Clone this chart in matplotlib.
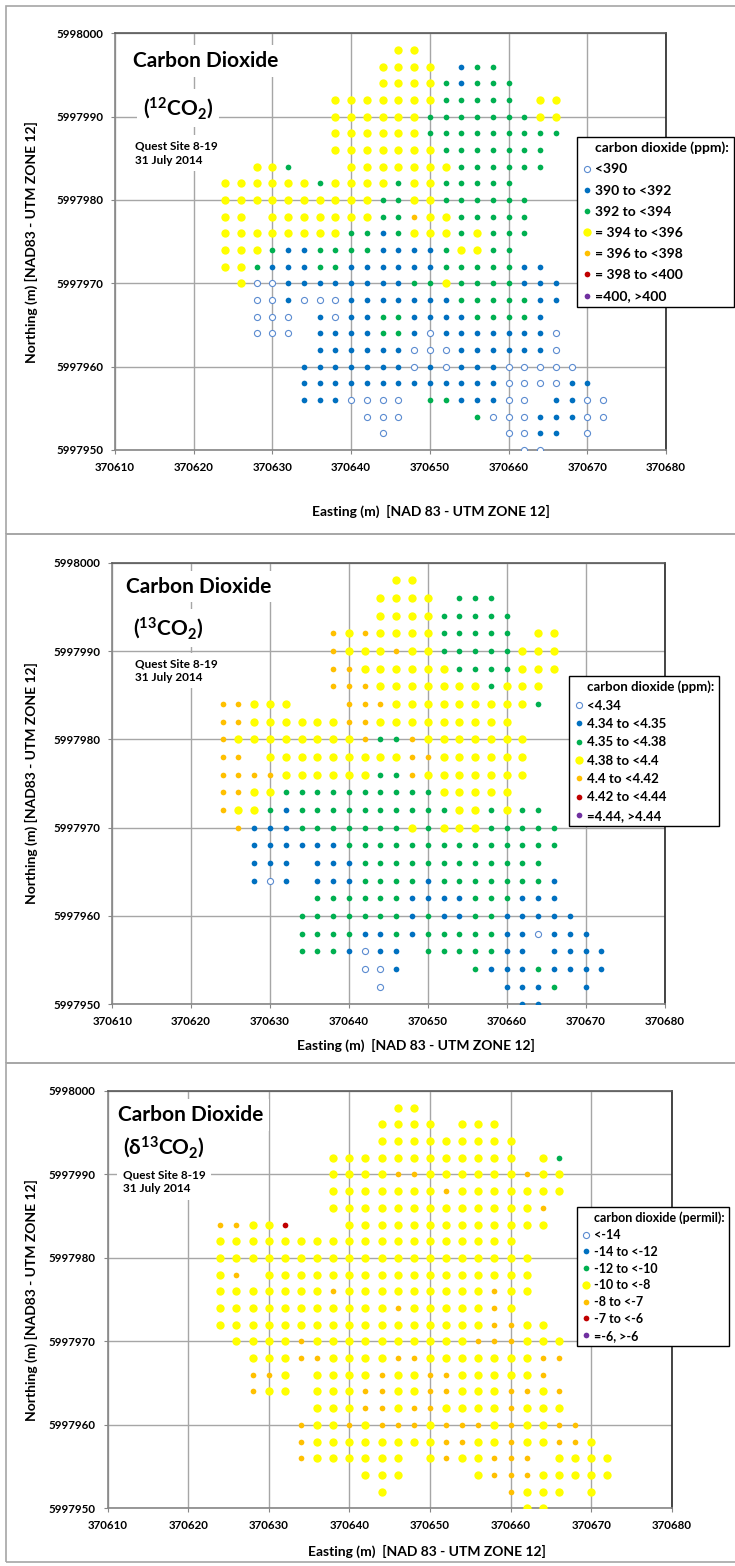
import matplotlib
matplotlib.use('Agg')
import matplotlib.pyplot as plt
from matplotlib.lines import Line2D
from matplotlib.patches import Rectangle

plt.rcParams['font.family'] = ['Lato', 'DejaVu Sans']
plt.rcParams['font.weight'] = 'bold'
plt.rcParams['mathtext.fontset'] = 'custom'
plt.rcParams['mathtext.rm'] = 'Lato:bold'
plt.rcParams['mathtext.it'] = 'Lato:bold'
plt.rcParams['mathtext.bf'] = 'Lato:bold'

W, H = 735, 1566

# sampling grid (m, NAD83 / UTM zone 12)
EASTINGS = [370624, 370626, 370628, 370630, 370632, 370634, 370636, 370638, 370640,
            370642, 370644, 370646, 370648, 370650, 370652, 370654, 370656, 370658,
            370660, 370662, 370664, 370666, 370668, 370670, 370672]
NORTHINGS = [5997998, 5997996, 5997994, 5997992, 5997990, 5997988, 5997986, 5997984,
             5997982, 5997980, 5997978, 5997976, 5997974, 5997972, 5997970, 5997968,
             5997966, 5997964, 5997962, 5997960, 5997958, 5997956, 5997954, 5997952,
             5997950]

# class index per grid point, one string per northing row ('.' = not sampled)
CO2_12_ROWS = [
    "...........33............",
    "..........3333.122.......",
    "..........333321222......",
    ".......333333322222.33...",
    ".......333333222222233...",
    ".......333333222222222...",
    ".......33333332222222....",
    "..332...3333333222222....",
    "3333332333323322222......",
    "33333333332233222222.....",
    "33.33333332243322222.....",
    "33333333221233323222.....",
    "3332112222111123322......",
    "332111221111112222211....",
    ".300111111112232222111...",
    "..00100011111112222211...",
    "..000.101122111122221....",
    "..000.1111221011111110...",
    "......1111110001111110...",
    ".....111111101011100000..",
    ".....1111111111111000011.",
    ".....1110000.2211100.1100",
    ".........000....200011100",
    "..........0.......0011.0.",
    "...................00....",
]

CO2_13_ROWS = [
    "...........33............",
    "..........3333.222.......",
    "..........333322222......",
    ".......434333322222.33...",
    ".......433343322222333...",
    ".......443333332222333...",
    ".......44433333332333....",
    "44333...4443333333332....",
    "4433333344333333333......",
    "43333333342243333333.....",
    "44.33333333344333333.....",
    "44443333332243333333.....",
    "4433222222222233333......",
    "433212222222222332322....",
    ".411122222223233322222...",
    "..11111122222222222222...",
    "..111.111222222222222....",
    "..101.1112222122222221...",
    "......2222221111222111...",
    ".....222222212112211111..",
    ".....2222112122222110111.",
    ".....2221011.2222211.1111",
    ".........001....211121111",
    "..........0.......1112.1.",
    "...................11....",
]

DELTA13_ROWS = [
    "...........33............",
    "..........3333.333.......",
    "..........333333333......",
    ".......333333333333.32...",
    ".......333344333333433...",
    ".......333333343333333...",
    ".......33333333333334....",
    "44335...3333333333333....",
    "3333333333333333333......",
    "33333333333333333333.....",
    "34.33333333333333333.....",
    "33333334333333333433.....",
    "3333333333343333343......",
    "333333333333333334433....",
    ".333343333333333444333...",
    "..33344333344333333344...",
    "..443.333343344333334....",
    "..433.3334433443334434...",
    "......3334434433334333...",
    ".....433434443444343344..",
    ".....4333333334433433443.",
    ".....4333333.3433444.3333",
    ".........333....344433333",
    "..........3.......4333.3.",
    "...................33....",
]

CO2_12_LABELS = ["<390", "390 to <392", "392 to <394", "= 394 to <396",
                 "= 396 to <398", "= 398 to <400", "=400, >400"]
CO2_13_LABELS = ["<4.34", "4.34 to <4.35", "4.35 to <4.38", "4.38 to <4.4",
                 "4.4 to <4.42", "4.42 to <4.44", "=4.44, >4.44"]
DELTA13_LABELS = ["<-14", "-14 to <-12", "-12 to <-10", "-10 to <-8",
                  "-8 to <-7", "-7 to <-6", "=-6, >-6"]

X_TICKS = [370610, 370620, 370630, 370640, 370650, 370660, 370670, 370680]
Y_TICKS = [5997950, 5997960, 5997970, 5997980, 5997990, 5998000]

# marker style for each class
CLASS_STYLE = [
    dict(mfc='white', mec='#5b8bd0', ms=4.4, mew=0.8),
    dict(mfc='#0070C0', mec='#0070C0', ms=4.1, mew=0),
    dict(mfc='#00B050', mec='#00B050', ms=4.1, mew=0),
    dict(mfc='#FFFF00', mec='#FFFF00', ms=6.0, mew=0),
    dict(mfc='#FFC000', mec='#FFC000', ms=4.1, mew=0),
    dict(mfc='#C00000', mec='#C00000', ms=4.1, mew=0),
    dict(mfc='#7030A0', mec='#7030A0', ms=4.1, mew=0),
]

fig = plt.figure(figsize=(W / 100, H / 100), dpi=100)


def fx(px):
    return px / W


def fy(py):
    return 1 - py / H


panels = [
    dict(rows=CO2_12_ROWS, labels=CO2_12_LABELS, box=(115, 33.3, 666, 450),
         frame=(6, 6, 534), leg=(576.7, 136.7, 10, 0.66),
         unit='carbon dioxide (ppm):', sub=r'($^{12}$CO$_2$)',
         title_xy=(133, 61), sub_xy=(143, 108), quest_xy=(135, 145.7),
         xlab_xy=(431, 511.7)),
    dict(rows=CO2_13_ROWS, labels=CO2_13_LABELS, box=(112.2, 562.7, 664.5, 1004.3),
         frame=(6, 534, 1063), leg=(569, 676, 9.5, 0.48),
         unit='carbon dioxide (ppm):', sub=r'($^{13}$CO$_2$)',
         title_xy=(126, 586.7), sub_xy=(133, 628), quest_xy=(135, 663),
         xlab_xy=(416, 1045)),
    dict(rows=DELTA13_ROWS, labels=DELTA13_LABELS, box=(107.5, 1091, 671.8, 1508.3),
         frame=(6, 1063, 1562), leg=(577.3, 1207.3, 9, 0.38),
         unit='carbon dioxide (permil):', sub=r'(δ$^{13}$CO$_2$)',
         title_xy=(118, 1115), sub_xy=(123, 1146.7), quest_xy=(123, 1174.3),
         xlab_xy=(427, 1551.7)),
]

for p in panels:
    # panel border
    fx0, ftop, fbot = p['frame']
    fig.add_artist(Rectangle((fx(fx0), fy(fbot)), fx(W + 10) - fx(fx0), (fbot - ftop) / H,
                             transform=fig.transFigure, fill=False,
                             edgecolor='#a6a6a6', lw=1.2))

    x0, y0, x1, y1 = p['box']
    ax = fig.add_axes([fx(x0), fy(y1), fx(x1) - fx(x0), (y1 - y0) / H])
    ax.set_xlim(X_TICKS[0], X_TICKS[-1])
    ax.set_ylim(Y_TICKS[0], Y_TICKS[-1])
    ax.set_xticks(X_TICKS)
    ax.set_xticklabels([str(v) for v in X_TICKS])
    ax.set_yticks(Y_TICKS)
    ax.set_yticklabels([str(v) for v in Y_TICKS])
    ax.tick_params(length=3, width=0.8, color='#868686', labelsize=8.3, pad=5.5)
    ax.grid(True, color='#a6a6a6', lw=1)
    ax.set_axisbelow(True)
    for s in ax.spines.values():
        s.set_color('#868686')
        s.set_linewidth(1.2)
    ax.spines['top'].set_color('#595959')
    ax.spines['right'].set_color('#262626')

    # sample points, one series per class
    for cls, style in enumerate(CLASS_STYLE):
        es, ns = [], []
        for n, row in zip(NORTHINGS, p['rows']):
            for e, c in zip(EASTINGS, row):
                if c != '.' and int(c) == cls:
                    es.append(e)
                    ns.append(n)
        if es:
            ax.plot(es, ns, ls='none', marker='o', zorder=3, **style)

    # legend, with the heading set as a handle-less first row
    handles = [Line2D([], [], ls='none')]
    handles += [Line2D([], [], ls='none', marker='o', **st) for st in CLASS_STYLE]
    lx, ly, lfs, lsp = p['leg']
    leg = ax.legend(handles, [p['unit']] + p['labels'], loc='upper left',
                    bbox_to_anchor=(fx(lx), fy(ly)), bbox_transform=fig.transFigure,
                    borderaxespad=0, borderpad=0.35, handlelength=0.75,
                    handletextpad=0.25, labelspacing=lsp, fontsize=lfs,
                    fancybox=False, framealpha=1, edgecolor='black')
    leg.get_frame().set_linewidth(1.0)

    # titles
    box = dict(facecolor='white', edgecolor='none', pad=4)
    tx, ty = p['title_xy']
    fig.text(fx(tx), fy(ty), 'Carbon Dioxide', fontsize=15, va='center', ha='left', bbox=box)
    sx, sy = p['sub_xy']
    fig.text(fx(sx), fy(sy), p['sub'], fontsize=15, va='center', ha='left', bbox=box)
    qx, qy = p['quest_xy']
    fig.text(fx(qx), fy(qy + 7.6), 'Quest Site 8-19\n31 July 2014', fontsize=8.5,
             va='center', ha='left', linespacing=1.3, bbox=box)

    # axis titles
    lx2, ly2 = p['xlab_xy']
    fig.text(fx(lx2), fy(ly2), 'Easting (m)  [NAD 83 - UTM ZONE 12]', fontsize=10,
             ha='center', va='center')
    fig.text(fx(31), fy((y0 + y1) / 2), 'Northing (m) [NAD83 - UTM ZONE 12]', fontsize=10,
             ha='center', va='center', rotation=90)

fig.savefig('out.png', dpi=100)
